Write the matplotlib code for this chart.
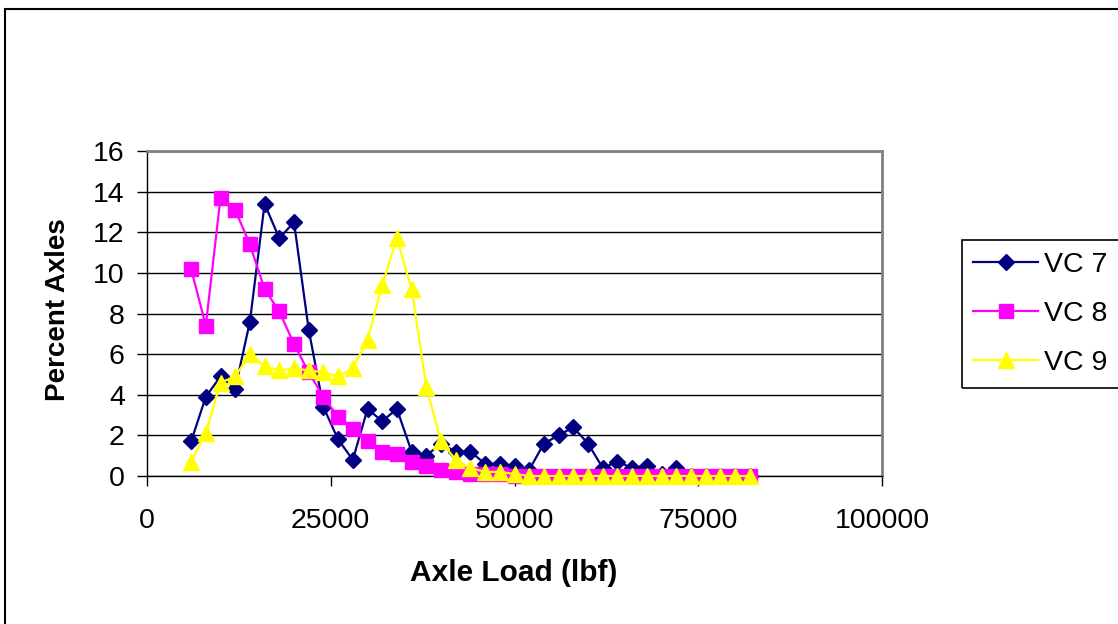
# Axle load distribution for vehicle classes 7, 8 and 9

import matplotlib
matplotlib.use("Agg")
import matplotlib.pyplot as plt
from matplotlib.patches import Rectangle

plt.rcParams['font.family'] = ['Liberation Sans', 'DejaVu Sans']

# Axle load bins (lbf)
axle_load = [6000, 8000, 10000, 12000, 14000, 16000, 18000, 20000, 22000, 24000,
             26000, 28000, 30000, 32000, 34000, 36000, 38000, 40000, 42000, 44000,
             46000, 48000, 50000, 52000, 54000, 56000, 58000, 60000, 62000, 64000,
             66000, 68000, 70000, 72000, 74000, 76000, 78000, 80000, 82000]

# Percent of axles in each bin
vc7 = [1.7, 3.9, 4.9, 4.3, 7.6, 13.4, 11.7, 12.5, 7.2, 3.4,
       1.8, 0.8, 3.3, 2.7, 3.3, 1.2, 1.0, 1.6, 1.2, 1.2,
       0.6, 0.6, 0.5, 0.3, 1.6, 2.0, 2.4, 1.6, 0.4, 0.7,
       0.4, 0.5, 0.1, 0.4, 0.0, 0.0, 0.0, 0.0, 0.0]
vc8 = [10.2, 7.4, 13.7, 13.1, 11.4, 9.2, 8.1, 6.5, 5.1, 3.9,
       2.9, 2.3, 1.7, 1.2, 1.1, 0.7, 0.5, 0.3, 0.2, 0.1,
       0.1, 0.1, 0.0, 0.0, 0.0, 0.0, 0.0, 0.0, 0.0, 0.0,
       0.0, 0.0, 0.0, 0.0, 0.0, 0.0, 0.0, 0.0, 0.0]
vc9 = [0.7, 2.1, 4.6, 4.9, 6.0, 5.4, 5.2, 5.3, 5.2, 5.1,
       4.9, 5.3, 6.7, 9.4, 11.7, 9.2, 4.4, 1.7, 0.8, 0.4,
       0.2, 0.2, 0.1, 0.0, 0.0, 0.0, 0.0, 0.0, 0.0, 0.0,
       0.0, 0.0, 0.0, 0.0, 0.0, 0.0, 0.0, 0.0, 0.0]

x_ticks = [0, 25000, 50000, 75000, 100000]
y_ticks = [0, 2, 4, 6, 8, 10, 12, 14, 16]

W, H = 1118, 624
fig = plt.figure(figsize=(W / 100, H / 100), dpi=100)

# plot area in pixel terms
left, right, top, bottom = 147, 882, 151, 476
ax = fig.add_axes([left / W, 1 - bottom / H, (right - left) / W, (bottom - top) / H])

l7, = ax.plot(axle_load, vc7, color='#000080', lw=1.6, marker='D', ms=8.5,
              mfc='#000080', mec='#000080', clip_on=False, zorder=3, label='VC 7')
l8, = ax.plot(axle_load, vc8, color='#FF00FF', lw=1.6, marker='s', ms=10.5,
              mfc='#FF00FF', mec='#FF00FF', clip_on=False, zorder=4, label='VC 8')
l9, = ax.plot(axle_load, vc9, color='#FFFF00', lw=1.6, marker='^', ms=11,
              mfc='#FFFF00', mec='#FFFF00', clip_on=False, zorder=5, label='VC 9')

ax.set_xlim(0, 100000)
ax.set_ylim(0, 16)
ax.set_xticks(x_ticks)
ax.set_yticks(y_ticks)
ax.grid(axis='y', color='black', lw=1.0)
ax.set_axisbelow(True)

for s in ['top', 'right']:
    ax.spines[s].set_color('#808080')
    ax.spines[s].set_linewidth(2)
for s in ['left', 'bottom']:
    ax.spines[s].set_color('black')
    ax.spines[s].set_linewidth(1.0)

ax.tick_params(axis='both', direction='out', length=7, width=1, colors='black', labelsize=20.5)
ax.tick_params(axis='y', pad=9)
ax.tick_params(axis='x', pad=16)

fig.text(514 / W, 1 - 573 / H, 'Axle Load (lbf)', ha='center', va='center',
         fontsize=21.5, fontweight='bold')
fig.text(58 / W, 1 - 310 / H, 'Percent Axles', ha='center', va='center',
         rotation=90, fontsize=20, fontweight='bold')

# legend
fig.legend(handles=[l7, l8, l9], loc='center left', bbox_to_anchor=(973 / W, 1 - 314 / H),
           frameon=False, fontsize=20.5, handlelength=2.3, handletextpad=0.2,
           labelspacing=0.8, borderpad=0, borderaxespad=0)
fig.patches.append(Rectangle((962 / W, 1 - 388 / H), 200 / W, 148 / H, fill=False,
                             ec='black', lw=1.2, transform=fig.transFigure, figure=fig))

# outer chart border
fig.patches.append(Rectangle((5 / W, -0.1), 1.2, 1.1 - 8.5 / H, fill=False,
                             ec='black', lw=1.5, transform=fig.transFigure, figure=fig))

fig.savefig('out.png', dpi=100)
